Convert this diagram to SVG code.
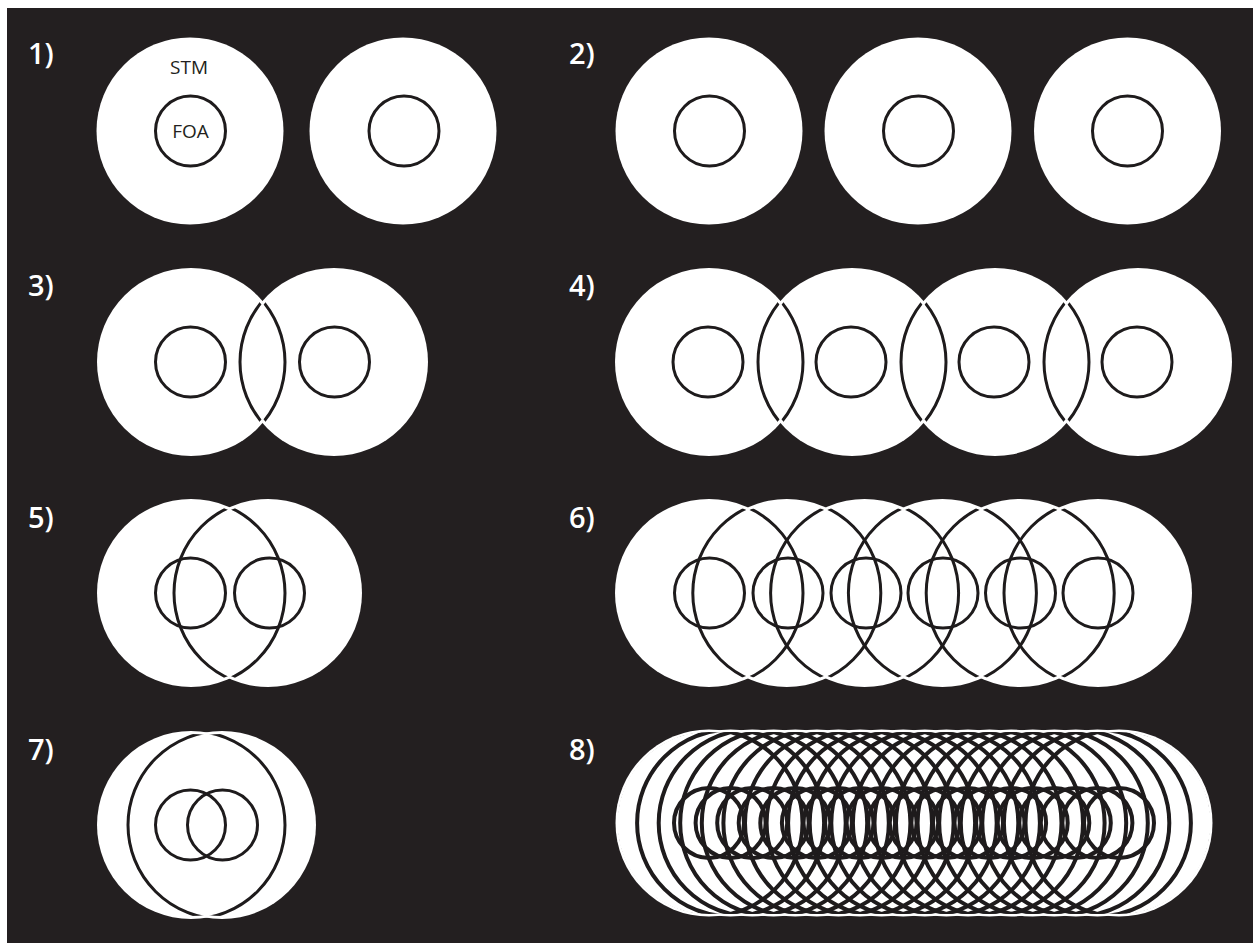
<svg xmlns="http://www.w3.org/2000/svg" width="1253" height="943" viewBox="0 0 1253 943">
<style>
.bg{fill:#231f20}
.w{fill:#ffffff}
.s{fill:none;stroke:#1e1b1c;stroke-width:3}
.s8{fill:none;stroke:#1e1b1c;stroke-width:4}
.lbl{font-family:"Open Sans","Liberation Sans",sans-serif;font-weight:600;font-size:29px;fill:#ffffff}
.t{font-family:"Open Sans","Liberation Sans",sans-serif;font-size:19px;fill:#231f20;text-anchor:middle}
</style>
<defs>
<clipPath id="clip3"><circle cx="191" cy="362" r="91"/><circle cx="334" cy="362" r="91"/></clipPath>
<clipPath id="clip4"><circle cx="709" cy="362" r="91"/><circle cx="852" cy="362" r="91"/><circle cx="995" cy="362" r="91"/><circle cx="1138" cy="362" r="91"/></clipPath>
<clipPath id="clip5"><circle cx="191" cy="593" r="91"/><circle cx="268" cy="593" r="91"/></clipPath>
<clipPath id="clip6"><circle cx="709" cy="593" r="91"/><circle cx="786.8" cy="593" r="91"/><circle cx="864.6" cy="593" r="91"/><circle cx="942.4" cy="593" r="91"/><circle cx="1020.2" cy="593" r="91"/><circle cx="1098" cy="593" r="91"/></clipPath>
<clipPath id="clip7"><circle cx="191" cy="825" r="91"/><circle cx="222" cy="825" r="91"/></clipPath>
<clipPath id="clip8">
<circle cx="709" cy="823" r="91"/><circle cx="730.6" cy="823" r="91"/><circle cx="752.2" cy="823" r="91"/><circle cx="773.7" cy="823" r="91"/><circle cx="795.3" cy="823" r="91"/>
<circle cx="816.9" cy="823" r="91"/><circle cx="838.5" cy="823" r="91"/><circle cx="860.1" cy="823" r="91"/><circle cx="881.6" cy="823" r="91"/><circle cx="903.2" cy="823" r="91"/>
<circle cx="924.8" cy="823" r="91"/><circle cx="946.4" cy="823" r="91"/><circle cx="968" cy="823" r="91"/><circle cx="989.5" cy="823" r="91"/><circle cx="1011.1" cy="823" r="91"/>
<circle cx="1032.7" cy="823" r="91"/><circle cx="1054.3" cy="823" r="91"/><circle cx="1075.8" cy="823" r="91"/><circle cx="1097.4" cy="823" r="91"/><circle cx="1119" cy="823" r="91"/>
</clipPath>
</defs>
<rect x="0" y="0" width="1253" height="943" fill="#ffffff"/>
<rect class="bg" x="7" y="8" width="1246" height="935"/>

<g id="labels">
<text class="lbl" x="28" y="64">1)</text>
<text class="lbl" x="569" y="64">2)</text>
<text class="lbl" x="28" y="296">3)</text>
<text class="lbl" x="569" y="296">4)</text>
<text class="lbl" x="28" y="528">5)</text>
<text class="lbl" x="569" y="528">6)</text>
<text class="lbl" x="28" y="760">7)</text>
<text class="lbl" x="569" y="760">8)</text>
</g>

<g id="panel1">
<circle class="w" cx="190" cy="131" r="93.5"/>
<circle class="w" cx="403" cy="131" r="93.5"/>
<circle class="s" cx="190.5" cy="131" r="35"/>
<circle class="s" cx="404" cy="131" r="35"/>
<text class="t" x="189" y="74">STM</text>
<text class="t" x="190.5" y="138">FOA</text>
</g>

<g id="panel2">
<circle class="w" cx="709" cy="131" r="93.5"/>
<circle class="w" cx="918" cy="131" r="93.5"/>
<circle class="w" cx="1127.5" cy="131" r="93.5"/>
<circle class="s" cx="709.5" cy="131" r="35"/>
<circle class="s" cx="918.5" cy="131" r="35"/>
<circle class="s" cx="1127.5" cy="131" r="35"/>
</g>

<g id="panel3">
<circle class="w" cx="191" cy="362" r="94"/>
<circle class="w" cx="334" cy="362" r="94"/>
<g clip-path="url(#clip3)">
<circle class="s" cx="191" cy="362" r="94"/>
<circle class="s" cx="334" cy="362" r="94"/>
</g>
<circle class="s" cx="190.5" cy="362" r="35"/>
<circle class="s" cx="334.5" cy="362" r="35"/>
</g>

<g id="panel4">
<circle class="w" cx="709" cy="362" r="94"/>
<circle class="w" cx="852" cy="362" r="94"/>
<circle class="w" cx="995" cy="362" r="94"/>
<circle class="w" cx="1138" cy="362" r="94"/>
<g clip-path="url(#clip4)">
<circle class="s" cx="709" cy="362" r="94"/>
<circle class="s" cx="852" cy="362" r="94"/>
<circle class="s" cx="995" cy="362" r="94"/>
<circle class="s" cx="1138" cy="362" r="94"/>
</g>
<circle class="s" cx="708" cy="362" r="35"/>
<circle class="s" cx="851" cy="362" r="35"/>
<circle class="s" cx="994" cy="362" r="35"/>
<circle class="s" cx="1137" cy="362" r="35"/>
</g>

<g id="panel5">
<circle class="w" cx="191" cy="593" r="94"/>
<circle class="w" cx="268" cy="593" r="94"/>
<g clip-path="url(#clip5)">
<circle class="s" cx="191" cy="593" r="94"/>
<circle class="s" cx="268" cy="593" r="94"/>
</g>
<circle class="s" cx="190.5" cy="593" r="35"/>
<circle class="s" cx="269.5" cy="593" r="35"/>
</g>

<g id="panel6">
<circle class="w" cx="709" cy="593" r="94"/>
<circle class="w" cx="786.8" cy="593" r="94"/>
<circle class="w" cx="864.6" cy="593" r="94"/>
<circle class="w" cx="942.4" cy="593" r="94"/>
<circle class="w" cx="1020.2" cy="593" r="94"/>
<circle class="w" cx="1098" cy="593" r="94"/>
<g clip-path="url(#clip6)">
<circle class="s" cx="709" cy="593" r="94"/>
<circle class="s" cx="786.8" cy="593" r="94"/>
<circle class="s" cx="864.6" cy="593" r="94"/>
<circle class="s" cx="942.4" cy="593" r="94"/>
<circle class="s" cx="1020.2" cy="593" r="94"/>
<circle class="s" cx="1098" cy="593" r="94"/>
</g>
<circle class="s" cx="709.5" cy="593" r="35"/>
<circle class="s" cx="788" cy="593" r="35"/>
<circle class="s" cx="866" cy="593" r="35"/>
<circle class="s" cx="943" cy="593" r="35"/>
<circle class="s" cx="1020.5" cy="593" r="35"/>
<circle class="s" cx="1098" cy="593" r="35"/>
</g>

<g id="panel7">
<circle class="w" cx="191" cy="825" r="94"/>
<circle class="w" cx="222" cy="825" r="94"/>
<g clip-path="url(#clip7)">
<circle class="s" cx="191" cy="825" r="94"/>
<circle class="s" cx="222" cy="825" r="94"/>
</g>
<circle class="s" cx="190.5" cy="825" r="35"/>
<circle class="s" cx="222.5" cy="825" r="35"/>
</g>

<g id="panel8">
<g>
<circle class="w" cx="709" cy="823" r="93.5"/><circle class="w" cx="730.6" cy="823" r="93.5"/><circle class="w" cx="752.2" cy="823" r="93.5"/><circle class="w" cx="773.7" cy="823" r="93.5"/><circle class="w" cx="795.3" cy="823" r="93.5"/>
<circle class="w" cx="816.9" cy="823" r="93.5"/><circle class="w" cx="838.5" cy="823" r="93.5"/><circle class="w" cx="860.1" cy="823" r="93.5"/><circle class="w" cx="881.6" cy="823" r="93.5"/><circle class="w" cx="903.2" cy="823" r="93.5"/>
<circle class="w" cx="924.8" cy="823" r="93.5"/><circle class="w" cx="946.4" cy="823" r="93.5"/><circle class="w" cx="968" cy="823" r="93.5"/><circle class="w" cx="989.5" cy="823" r="93.5"/><circle class="w" cx="1011.1" cy="823" r="93.5"/>
<circle class="w" cx="1032.7" cy="823" r="93.5"/><circle class="w" cx="1054.3" cy="823" r="93.5"/><circle class="w" cx="1075.8" cy="823" r="93.5"/><circle class="w" cx="1097.4" cy="823" r="93.5"/><circle class="w" cx="1119" cy="823" r="93.5"/>
</g>
<g clip-path="url(#clip8)">
<circle class="s8" cx="709" cy="823" r="93.5"/><circle class="s8" cx="730.6" cy="823" r="93.5"/><circle class="s8" cx="752.2" cy="823" r="93.5"/><circle class="s8" cx="773.7" cy="823" r="93.5"/><circle class="s8" cx="795.3" cy="823" r="93.5"/>
<circle class="s8" cx="816.9" cy="823" r="93.5"/><circle class="s8" cx="838.5" cy="823" r="93.5"/><circle class="s8" cx="860.1" cy="823" r="93.5"/><circle class="s8" cx="881.6" cy="823" r="93.5"/><circle class="s8" cx="903.2" cy="823" r="93.5"/>
<circle class="s8" cx="924.8" cy="823" r="93.5"/><circle class="s8" cx="946.4" cy="823" r="93.5"/><circle class="s8" cx="968" cy="823" r="93.5"/><circle class="s8" cx="989.5" cy="823" r="93.5"/><circle class="s8" cx="1011.1" cy="823" r="93.5"/>
<circle class="s8" cx="1032.7" cy="823" r="93.5"/><circle class="s8" cx="1054.3" cy="823" r="93.5"/><circle class="s8" cx="1075.8" cy="823" r="93.5"/><circle class="s8" cx="1097.4" cy="823" r="93.5"/><circle class="s8" cx="1119" cy="823" r="93.5"/>
</g>
<g>
<circle class="s8" cx="709" cy="823" r="35"/><circle class="s8" cx="730.6" cy="823" r="35"/><circle class="s8" cx="752.2" cy="823" r="35"/><circle class="s8" cx="773.7" cy="823" r="35"/><circle class="s8" cx="795.3" cy="823" r="35"/>
<circle class="s8" cx="816.9" cy="823" r="35"/><circle class="s8" cx="838.5" cy="823" r="35"/><circle class="s8" cx="860.1" cy="823" r="35"/><circle class="s8" cx="881.6" cy="823" r="35"/><circle class="s8" cx="903.2" cy="823" r="35"/>
<circle class="s8" cx="924.8" cy="823" r="35"/><circle class="s8" cx="946.4" cy="823" r="35"/><circle class="s8" cx="968" cy="823" r="35"/><circle class="s8" cx="989.5" cy="823" r="35"/><circle class="s8" cx="1011.1" cy="823" r="35"/>
<circle class="s8" cx="1032.7" cy="823" r="35"/><circle class="s8" cx="1054.3" cy="823" r="35"/><circle class="s8" cx="1075.8" cy="823" r="35"/><circle class="s8" cx="1097.4" cy="823" r="35"/><circle class="s8" cx="1119" cy="823" r="35"/>
</g>
</g>
</svg>
